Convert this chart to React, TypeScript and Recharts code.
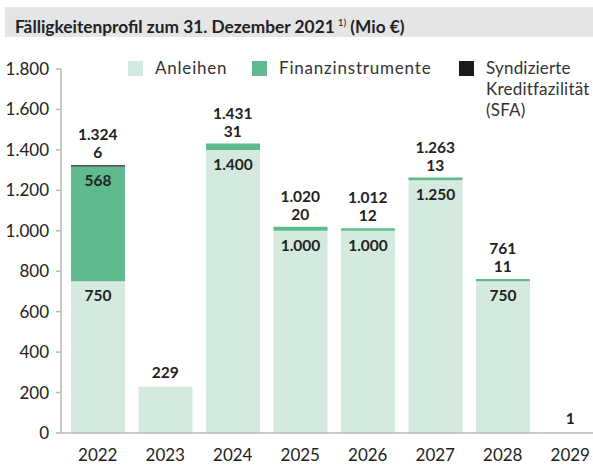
import React from 'react';
import { BarChart, Bar, XAxis, YAxis, LabelList, ReferenceDot } from 'recharts';

const years = ['2022', '2023', '2024', '2025', '2026', '2027', '2028', '2029'];
const anleihen = [750, 229, 1400, 1000, 1000, 1250, 750, 0];
const finanz = [568, 0, 31, 20, 12, 13, 11, 1];
const sfa = [6, 0, 0, 0, 0, 0, 0, 0];
const yTicks = [0, 200, 400, 600, 800, 1000, 1200, 1400, 1600, 1800];

const C_ANL = '#d5eadf';
const C_FIN = '#5fbb8e';
const C_SFA = '#1a1a1a';
const FONT = 'Lato, "Noto Sans", sans-serif';

const data = years.map((y, i) => ({ year: y, anleihen: anleihen[i], finanz: finanz[i], sfa: sfa[i] }));

const fmt = (n: number) => String(n).replace(/\B(?=(\d{3})+(?!\d))/g, '.');

const parts = (i: number) => [anleihen[i], finanz[i], sfa[i]].filter((v) => v > 0);
const totals = years.map((_, i) => parts(i).reduce((a, b) => a + b, 0));

const textStyle = { fontFamily: FONT, fontSize: 15.5, fontWeight: 700, fill: '#222' } as const;

const makeTopShape = (index: number) => (props: any) => {
  const { cx, cy } = props;
  const p = parts(index);
  if (p.length <= 1) {
    return (
      <text x={cx} y={cy - 15} textAnchor="middle" dominantBaseline="central" style={textStyle}>
        {fmt(totals[index])}
      </text>
    );
  }
  const small = p[p.length - 1];
  return (
    <g>
      <text x={cx} y={cy - 31} textAnchor="middle" dominantBaseline="central" style={textStyle}>
        {fmt(totals[index])}
      </text>
      <text x={cx} y={cy - 13} textAnchor="middle" dominantBaseline="central" style={textStyle}>
        {fmt(small)}
      </text>
    </g>
  );
};

const renderInside = (props: any) => {
  const { x, y, width, index, value } = props;
  if (parts(index).length <= 1 || value < 100) return null;
  return (
    <text x={x + width / 2} y={y + 14} textAnchor="middle" dominantBaseline="central" style={textStyle}>
      {fmt(value)}
    </text>
  );
};

const legendItems = [
  { color: C_ANL, label: ['Anleihen'], left: 128, top: 61, ls: 0.8 },
  { color: C_FIN, label: ['Finanzinstrumente'], left: 252, top: 61, ls: 0.8 },
  { color: C_SFA, label: ['Syndizierte', 'Kreditfazilität', '(SFA)'], left: 459, top: 61, ls: 0.2 },
];

export default function App() {
  return (
    <div style={{ position: 'absolute', left: 0, top: 0, width: 593, height: 474, overflow: 'hidden', background: '#fff' }}>
      <div
        style={{
          position: 'absolute',
          left: 5,
          top: 7,
          width: 588,
          height: 30,
          background: '#e4e5e6',
        }}
      />
      <div
        style={{
          position: 'absolute',
          left: 15,
          top: 7,
          height: 30,
          lineHeight: '30px',
          fontFamily: FONT,
          fontWeight: 700,
          fontSize: 17.3,
          color: '#222',
          whiteSpace: 'nowrap',
        }}
      >
        Fälligkeitenprofil zum 31. Dezember 2021
        <span style={{ fontSize: 10, verticalAlign: 'super', marginLeft: 3, fontWeight: 400 }}>1)</span> (Mio €)
      </div>
      <div style={{ position: 'absolute', left: 0, top: 0 }}>
        <BarChart width={604} height={474} data={data} margin={{ top: 69, right: 0, left: 0, bottom: 0 }} barSize={54}>
          <XAxis
            dataKey="year"
            height={41}
            axisLine={{ stroke: '#b9b9b9', strokeWidth: 1.5 }}
            tickLine={false}
            tickMargin={10}
            padding={{ left: 3, right: 0 }}
            tick={{ fontFamily: FONT, fontSize: 17, fill: '#222' }}
            interval={0}
          />
          <YAxis
            width={61}
            domain={[0, 1800]}
            ticks={yTicks}
            interval={0}
            axisLine={{ stroke: '#b9b9b9', strokeWidth: 1.5 }}
            tickLine={{ stroke: '#b9b9b9', strokeWidth: 1.5 }}
            tickSize={5}
            tickMargin={7}
            tickFormatter={(v: number) => fmt(v)}
            tick={{ fontFamily: FONT, fontSize: 17, fill: '#222' }}
          />
          <Bar dataKey="anleihen" stackId="a" fill={C_ANL} isAnimationActive={false}>
            <LabelList dataKey="anleihen" content={renderInside} />
          </Bar>
          <Bar dataKey="finanz" stackId="a" fill={C_FIN} isAnimationActive={false}>
            <LabelList dataKey="finanz" content={renderInside} />
          </Bar>
          <Bar dataKey="sfa" stackId="a" fill={C_SFA} isAnimationActive={false} />
          {years.map((yr, i) => (
            <ReferenceDot key={yr} x={yr} y={totals[i]} r={0} ifOverflow="visible" shape={makeTopShape(i)} />
          ))}
        </BarChart>
      </div>
      {legendItems.map((it) => (
        <div key={it.label[0]} style={{ position: 'absolute', left: it.left, top: it.top }}>
          <div style={{ position: 'absolute', left: 0, top: 0, width: 15, height: 15, background: it.color }} />
          <div
            style={{
              position: 'absolute',
              left: 27,
              top: -4,
              fontFamily: FONT,
              fontSize: 17,
              letterSpacing: it.ls,
              lineHeight: '21px',
              color: '#333',
              whiteSpace: 'nowrap',
            }}
          >
            {it.label.map((l) => (
              <div key={l}>{l}</div>
            ))}
          </div>
        </div>
      ))}
    </div>
  );
}
